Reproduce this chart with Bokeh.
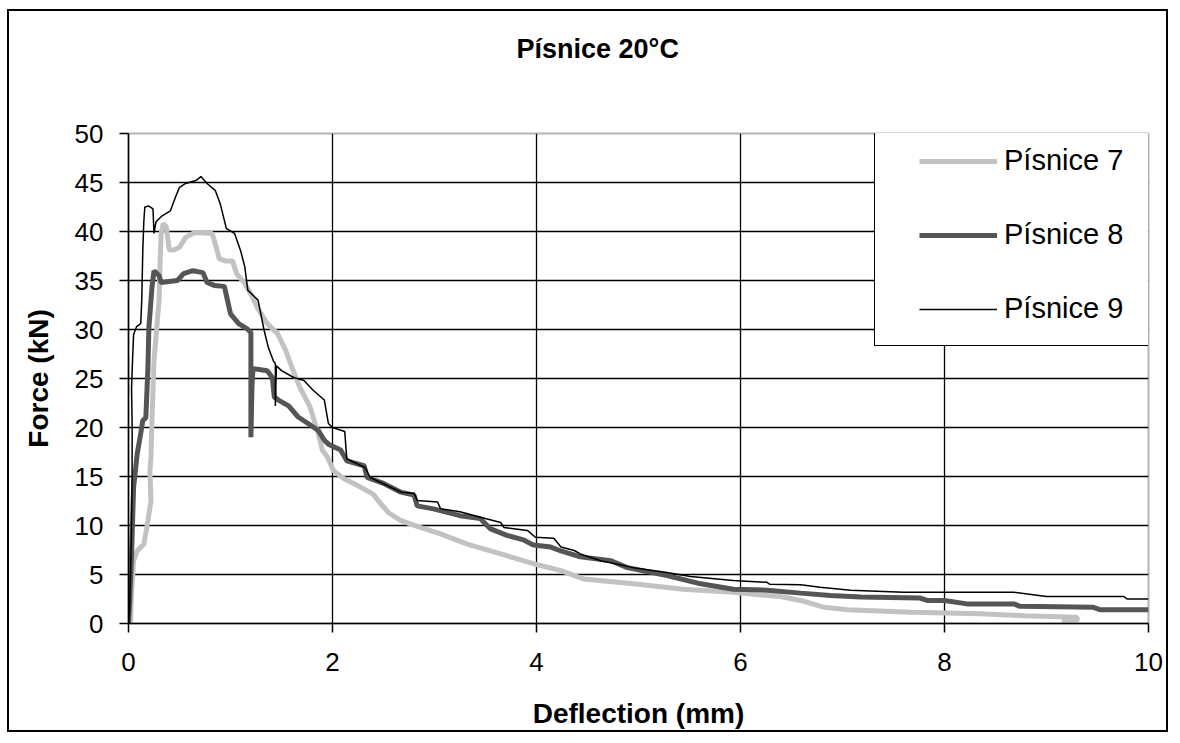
from bokeh.plotting import figure
from bokeh.models import FixedTicker, Legend, LegendItem, Title
from bokeh.embed import file_html
from bokeh.resources import INLINE

TITLE = "Písnice 20°C"
X_LABEL = "Deflection (mm)"
Y_LABEL = "Force (kN)"
SERIES_NAMES = ["Písnice 7", "Písnice 8", "Písnice 9"]
X_TICKS = [0, 2, 4, 6, 8, 10]
Y_TICKS = [0, 5, 10, 15, 20, 25, 30, 35, 40, 45, 50]

# Písnice 7 (light grey)
x7 = [0.02, 0.03, 0.05, 0.085, 0.15, 0.18, 0.22, 0.21, 0.22, 0.23, 0.25, 0.3, 0.31, 0.32, 0.34, 0.37,
      0.4, 0.44, 0.5, 0.56, 0.65, 0.82, 0.86, 0.89, 0.95, 1.02, 1.06, 1.14, 1.2, 1.26, 1.36, 1.46,
      1.54, 1.6, 1.68, 1.78, 1.86, 1.9, 1.95, 2.01, 2.11, 2.24, 2.4, 2.45, 2.55, 2.67, 2.86, 3.06,
      3.32, 3.65, 3.97, 4.24, 4.46, 4.95, 5.44, 5.93, 6.26, 6.39, 6.59, 6.82, 7.05, 7.67, 8.35, 8.78,
      9.3, 9.3, 9.15]
y7 = [0.0, 3.0, 6.4, 7.4, 8.1, 9.8, 12.5, 15.6, 17.0, 20.7, 26.8, 33.0, 37.0, 39.8, 40.8, 40.5,
      38.1, 38.1, 38.4, 39.4, 39.9, 39.8, 38.4, 37.2, 37.0, 37.0, 35.7, 34.7, 33.6, 32.3, 30.6, 29.6,
      27.9, 26.2, 24.1, 22.1, 19.4, 17.7, 17.0, 15.6, 14.8, 14.1, 13.2, 12.5, 11.3, 10.5, 9.8, 9.15,
      8.1, 7.1, 6.1, 5.4, 4.55, 4.05, 3.5, 3.2, 2.85, 2.75, 2.35, 1.65, 1.4, 1.15, 1.0, 0.8,
      0.65, 0.3, 0.15]

# Písnice 8 (dark grey)
x8 = [0.0, 0.01, 0.03, 0.04, 0.05, 0.085, 0.12, 0.14, 0.17, 0.19, 0.2, 0.23, 0.25, 0.3, 0.32, 0.48,
      0.54, 0.63, 0.73, 0.77, 0.84, 0.94, 0.97, 1.0, 1.08, 1.16, 1.2, 1.2, 1.21, 1.22, 1.36, 1.41,
      1.43, 1.47, 1.57, 1.66, 1.79, 1.86, 1.92, 1.96, 2.08, 2.14, 2.31, 2.34, 2.5, 2.67, 2.8, 2.83,
      2.99, 3.25, 3.45, 3.55, 3.71, 3.88, 3.97, 4.14, 4.24, 4.43, 4.73, 4.89, 5.28, 5.61, 5.93, 6.26,
      6.59, 6.88, 7.18, 7.76, 7.83, 8.0, 8.22, 8.68, 8.74, 9.46, 9.53, 10.0]
y8 = [0.0, 2.0, 7.0, 10.5, 13.9, 17.3, 19.4, 20.7, 21.0, 26.0, 30.2, 34.3, 36.0, 35.5, 34.8, 35.0,
      35.7, 36.0, 35.8, 34.8, 34.5, 34.4, 33.0, 31.6, 30.6, 30.1, 29.7, 19.0, 24.0, 26.0, 25.8, 25.1,
      23.1, 22.8, 22.2, 21.1, 20.2, 19.7, 18.7, 18.3, 17.7, 16.6, 16.1, 14.9, 14.3, 13.4, 13.1, 12.0,
      11.7, 11.0, 10.7, 9.65, 9.0, 8.5, 8.0, 7.8, 7.4, 6.8, 6.4, 5.7, 4.9, 4.05, 3.5, 3.4,
      3.1, 2.85, 2.7, 2.6, 2.35, 2.35, 2.0, 2.0, 1.75, 1.65, 1.4, 1.4]

# Písnice 9 (black)
x9 = [0.0, 0.01, 0.02, 0.03, 0.035, 0.036, 0.03, 0.04, 0.05, 0.08, 0.12, 0.13, 0.14, 0.15, 0.16, 0.2,
      0.24, 0.25, 0.27, 0.33, 0.41, 0.46, 0.5, 0.56, 0.66, 0.71, 0.77, 0.85, 0.9, 0.96, 1.04, 1.1,
      1.14, 1.17, 1.27, 1.33, 1.37, 1.42, 1.44, 1.44, 1.45, 1.5, 1.62, 1.72, 1.81, 1.92, 1.96, 2.0,
      2.12, 2.14, 2.2, 2.32, 2.37, 2.57, 2.67, 2.8, 2.83, 3.03, 3.06, 3.25, 3.45, 3.65, 3.68, 3.91,
      3.99, 4.17, 4.24, 4.37, 4.43, 4.63, 4.95, 5.28, 5.51, 5.93, 6.26, 6.29, 6.59, 6.78, 7.08, 7.6,
      8.68, 9.0, 9.76, 9.79, 10.0]
y9 = [0.0, 1.0, 5.0, 10.0, 15.0, 20.0, 24.0, 27.0, 29.5, 30.3, 30.6, 33.0, 38.0, 41.0, 42.5, 42.6,
      42.3, 39.8, 41.0, 41.6, 42.1, 43.5, 44.5, 44.9, 45.2, 45.6, 44.9, 44.2, 42.8, 40.3, 39.8, 38.0,
      36.4, 34.0, 33.0, 29.9, 28.2, 26.8, 26.5, 22.2, 26.3, 25.8, 25.1, 24.8, 23.8, 22.8, 20.4, 20.0,
      19.6, 16.8, 16.5, 15.9, 14.9, 13.9, 13.4, 13.3, 12.55, 12.4, 11.7, 11.4, 10.85, 10.3, 9.8, 9.5,
      8.8, 8.7, 7.8, 7.45, 7.1, 6.4, 5.7, 5.2, 4.8, 4.4, 4.2, 4.0, 3.95, 3.7, 3.4, 3.2,
      3.2, 2.75, 2.75, 2.5, 2.5]

FONT = "Liberation Sans"

p = figure(width=1161, height=723, x_range=(0, 10), y_range=(0, 50),
           output_backend="svg", toolbar_location=None,
           min_border_left=119, min_border_right=22, min_border_top=122, min_border_bottom=111,
           styles={"margin": "9px 0px 0px 7px", "border": "2px solid black"})
p.background_fill_color = "white"
p.border_fill_color = "white"
p.outline_line_color = "#B4B4B4"
p.outline_line_width = 2

# spacer between the frame and the title (closest to the frame)
p.add_layout(Title(text=" ", text_font_size="1px", standoff=62), "above")

p.title.text = TITLE
p.title.align = "left"
p.title.offset = 388
p.title.standoff = 10
p.title.text_font = FONT
p.title.text_font_size = "27px"
p.title.text_font_style = "bold"
p.title.text_color = "black"

for ax in (p.xaxis[0], p.yaxis[0]):
    ax.axis_line_color = "black"
    ax.axis_line_width = 1.5
    ax.major_tick_line_color = "black"
    ax.major_tick_line_width = 1.5
    ax.major_tick_out = 9
    ax.major_tick_in = 0
    ax.minor_tick_line_color = None
    ax.major_label_text_font = FONT
    ax.major_label_text_font_size = "26px"
    ax.major_label_text_color = "black"
    ax.axis_label_text_font = FONT
    ax.axis_label_text_font_size = "28px"
    ax.axis_label_text_font_style = "bold"
    ax.axis_label_text_color = "black"

p.xaxis.ticker = FixedTicker(ticks=X_TICKS)
p.yaxis.ticker = FixedTicker(ticks=Y_TICKS)
p.xaxis.axis_label = X_LABEL
p.yaxis.axis_label = Y_LABEL
p.xaxis.major_label_standoff = 20
p.xaxis.axis_label_standoff = 24
p.yaxis.major_label_standoff = 16
p.yaxis.axis_label_standoff = 18

p.xgrid.ticker = FixedTicker(ticks=X_TICKS[1:-1])
p.ygrid.ticker = FixedTicker(ticks=Y_TICKS[1:-1])
for g in (p.xgrid[0], p.ygrid[0]):
    g.grid_line_color = "black"
    g.grid_line_width = 1.3

r7 = p.line(x7, y7, line_color="#C2C2C2", line_width=5)
r8 = p.line(x8, y8, line_color="#555555", line_width=5)
r9 = p.line(x9, y9, line_color="black", line_width=1.5)

# invisible renderer used only to draw the legend frame
rbox = p.line([], [], line_alpha=0)
box_legend = Legend(items=[LegendItem(label=" ", renderers=[rbox])],
                    location=(746, 277), padding=0, margin=0, spacing=0,
                    glyph_width=289, glyph_height=214, label_height=214, label_standoff=0,
                    label_text_font_size="1px",
                    border_line_color="black", border_line_width=1.5, border_line_alpha=1,
                    background_fill_color="white", background_fill_alpha=1)
p.add_layout(box_legend)

legend = Legend(items=[LegendItem(label=SERIES_NAMES[0], renderers=[r7]),
                       LegendItem(label=SERIES_NAMES[1], renderers=[r8]),
                       LegendItem(label=SERIES_NAMES[2], renderers=[r9])],
                location=(791, 298), padding=0, margin=0, spacing=41,
                glyph_width=78, glyph_height=30, label_height=30, label_standoff=7,
                border_line_alpha=0, background_fill_alpha=0,
                label_text_font=FONT, label_text_font_size="29px", label_text_color="black")
p.add_layout(legend)

open("out.html", "w").write(file_html(p, INLINE))
